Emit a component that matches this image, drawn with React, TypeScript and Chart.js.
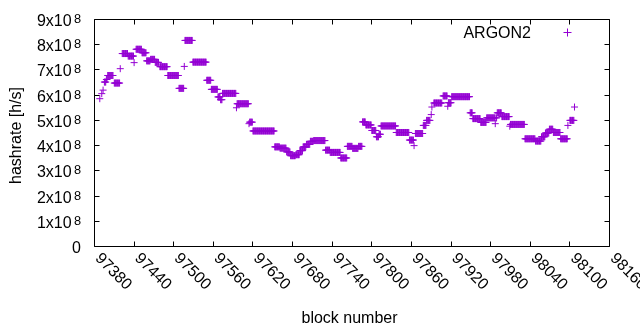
import { useEffect, useRef } from "react";
import { Chart, registerables } from "chart.js";

Chart.register(...registerables);

// Runs of blocks with a constant hashrate (values in units of 1e8 h/s)
const runStart = [
  97388, 97391, 97393, 97395, 97398, 97400, 97410, 97419, 97422, 97431,
  97440, 97443, 97452, 97459, 97465, 97472, 97479, 97491, 97508, 97516,
  97517, 97529, 97550, 97557, 97567, 97571, 97574, 97595, 97596, 97614,
  97615, 97620, 97653, 97661, 97671, 97677, 97685, 97691, 97696, 97701,
  97707, 97712, 97730, 97737, 97753, 97763, 97771, 97780, 97786, 97791,
  97800, 97807, 97811, 97814, 97837, 97857, 97864, 97866, 97878, 97883,
  97890, 97891, 97894, 97908, 97915, 97916, 97921, 97949, 97953, 97965,
  97974, 97987, 97988, 97990, 97997, 98009, 98010, 98032, 98048, 98057,
  98063, 98069, 98075, 98086, 98097, 98100, 98107,
];
const runEnd = [
  97388, 97391, 97393, 97397, 97399, 97408, 97418, 97419, 97430, 97439,
  97440, 97451, 97458, 97464, 97471, 97477, 97490, 97507, 97515, 97516,
  97528, 97549, 97556, 97566, 97570, 97573, 97594, 97595, 97613, 97614,
  97619, 97652, 97660, 97670, 97676, 97684, 97690, 97695, 97700, 97706,
  97711, 97729, 97736, 97752, 97762, 97770, 97779, 97785, 97790, 97799,
  97806, 97810, 97813, 97836, 97856, 97863, 97864, 97877, 97882, 97888,
  97890, 97891, 97906, 97914, 97915, 97920, 97948, 97952, 97964, 97973,
  97986, 97987, 97989, 97996, 98008, 98009, 98031, 98047, 98056, 98062,
  98068, 98074, 98085, 98096, 98097, 98106, 98107,
];
const runValue = [
  5.86, 6.06, 6.2, 6.52, 6.62, 6.78, 6.48, 7.05, 7.65, 7.55,
  7.29, 7.82, 7.68, 7.36, 7.42, 7.3, 7.13, 6.78, 6.27, 7.14,
  8.17, 7.31, 6.59, 6.23, 5.93, 5.82, 6.07, 5.5, 5.66, 4.87,
  4.93, 4.58, 3.95, 3.9, 3.75, 3.6, 3.64, 3.8, 3.95, 4.05,
  4.17, 4.2, 3.82, 3.73, 3.51, 3.97, 3.89, 3.97, 4.94, 4.82,
  4.6, 4.35, 4.45, 4.78, 4.52, 4.22, 4.0, 4.48, 4.8, 5.0,
  5.23, 5.53, 5.69, 5.97, 5.56, 5.7, 5.94, 5.3, 5.07, 4.92,
  5.1, 4.87, 5.1, 5.3, 5.15, 4.77, 4.84, 4.27, 4.18, 4.35,
  4.5, 4.65, 4.52, 4.27, 4.8, 5.0, 5.53,
];

const xTicks = [
  97380, 97440, 97500, 97560, 97620, 97680, 97740, 97800, 97860, 97920,
  97980, 98040, 98100, 98160,
];
const yTicks = [0, 1, 2, 3, 4, 5, 6, 7, 8, 9];
const yTickMantissa = ["0", "1x10", "2x10", "3x10", "4x10", "5x10", "6x10", "7x10", "8x10", "9x10"];
const yTickExponent = ["", "8", "8", "8", "8", "8", "8", "8", "8", "8"];
const seriesName = "ARGON2";
const xTitle = "block number";
const yTitle = "hashrate [h/s]";

const PURPLE = "#9400d3";
const FONT = "'Liberation Sans', Arial, sans-serif";
const TICK_LEN = 5;

function buildPoints() {
  const pts: { x: number; y: number }[] = [];
  for (let i = 0; i < runStart.length; i++) {
    for (let b = runStart[i]; b <= runEnd[i]; b++) {
      pts.push({ x: b, y: runValue[i] * 1e8 });
    }
  }
  return pts;
}

const framePlugin = {
  id: "gnuplotFrame",
  afterDraw(chart: any) {
    const { ctx, chartArea: a, scales } = chart;
    const xs = scales.x;
    const ys = scales.y;
    ctx.save();
    ctx.strokeStyle = "#000";
    ctx.lineWidth = 1;
    ctx.beginPath();
    ctx.rect(a.left, a.top, a.right - a.left, a.bottom - a.top);
    xTicks.forEach((v) => {
      const px = Math.round(xs.getPixelForValue(v) - 0.5) + 0.5;
      ctx.moveTo(px, a.bottom);
      ctx.lineTo(px, a.bottom - TICK_LEN);
      ctx.moveTo(px, a.top);
      ctx.lineTo(px, a.top + TICK_LEN);
    });
    yTicks.forEach((v) => {
      const py = Math.round(ys.getPixelForValue(v * 1e8) - 0.5) + 0.5;
      ctx.moveTo(a.left, py);
      ctx.lineTo(a.left + TICK_LEN, py);
      ctx.moveTo(a.right, py);
      ctx.lineTo(a.right - TICK_LEN, py);
    });
    ctx.stroke();

    ctx.fillStyle = "#000";
    // y tick labels with superscript exponent
    yTicks.forEach((v, i) => {
      const py = ys.getPixelForValue(v * 1e8);
      const right = a.left - 13.5;
      ctx.textBaseline = "alphabetic";
      if (yTickExponent[i]) {
        ctx.font = `12.8px ${FONT}`;
        ctx.textAlign = "right";
        ctx.fillText(yTickExponent[i], right, py + 3.5);
        const ew = ctx.measureText(yTickExponent[i]).width;
        ctx.font = `16px ${FONT}`;
        ctx.fillText(yTickMantissa[i], right - ew - 2.3, py + 6.5);
      } else {
        ctx.font = `16px ${FONT}`;
        ctx.textAlign = "right";
        ctx.fillText(yTickMantissa[i], right, py + 6);
      }
    });

    // x tick labels rotated by -45 (clockwise)
    ctx.font = `16px ${FONT}`;
    ctx.textAlign = "left";
    ctx.textBaseline = "middle";
    xTicks.forEach((v) => {
      const px = xs.getPixelForValue(v);
      ctx.save();
      ctx.translate(px + 3, a.bottom + 9.5);
      ctx.rotate(Math.PI / 4);
      ctx.fillText(String(v), 0, 0);
      ctx.restore();
    });

    // axis titles
    ctx.textBaseline = "alphabetic";
    ctx.textAlign = "center";
    ctx.fillText(xTitle, 349.5, 322.5);
    ctx.save();
    ctx.translate(21, 135.5);
    ctx.rotate(-Math.PI / 2);
    ctx.fillText(yTitle, 0, 0);
    ctx.restore();

    // legend
    ctx.textAlign = "right";
    ctx.fillText(seriesName, 531, 38);
    ctx.strokeStyle = PURPLE;
    ctx.beginPath();
    ctx.moveTo(563.5, 32.5);
    ctx.lineTo(571.5, 32.5);
    ctx.moveTo(567.5, 28.5);
    ctx.lineTo(567.5, 36.5);
    ctx.stroke();
    ctx.restore();
  },
};

export default function App() {
  const ref = useRef<HTMLCanvasElement | null>(null);
  useEffect(() => {
    document.body.style.margin = "0";
    if (!ref.current) return;
    const chart = new Chart(ref.current, {
      type: "scatter",
      data: {
        datasets: [
          {
            label: seriesName,
            data: buildPoints(),
            pointStyle: "cross",
            pointRadius: 3.5,
            pointBorderWidth: 1,
            borderColor: PURPLE,
            backgroundColor: PURPLE,
            pointHoverRadius: 3.5,
          },
        ],
      },
      options: {
        animation: false,
        responsive: false,
        events: [],
        layout: { padding: { left: 94.5, right: 30.5, top: 19.5, bottom: 83.5 } },
        plugins: { legend: { display: false }, tooltip: { enabled: false } },
        scales: {
          x: {
            type: "linear",
            min: 97380,
            max: 98160,
            grid: { display: false, drawTicks: false },
            border: { display: false },
            ticks: { display: false },
            afterFit: (s: any) => {
              s.height = 0;
            },
          },
          y: {
            type: "linear",
            min: 0,
            max: 9e8,
            grid: { display: false, drawTicks: false },
            border: { display: false },
            ticks: { display: false },
            afterFit: (s: any) => {
              s.width = 0;
            },
          },
        },
      },
      plugins: [framePlugin],
    });
    return () => chart.destroy();
  }, []);
  return (
    <canvas
      ref={ref}
      width={640}
      height={330}
      style={{ display: "block", width: 640, height: 330 }}
    />
  );
}
